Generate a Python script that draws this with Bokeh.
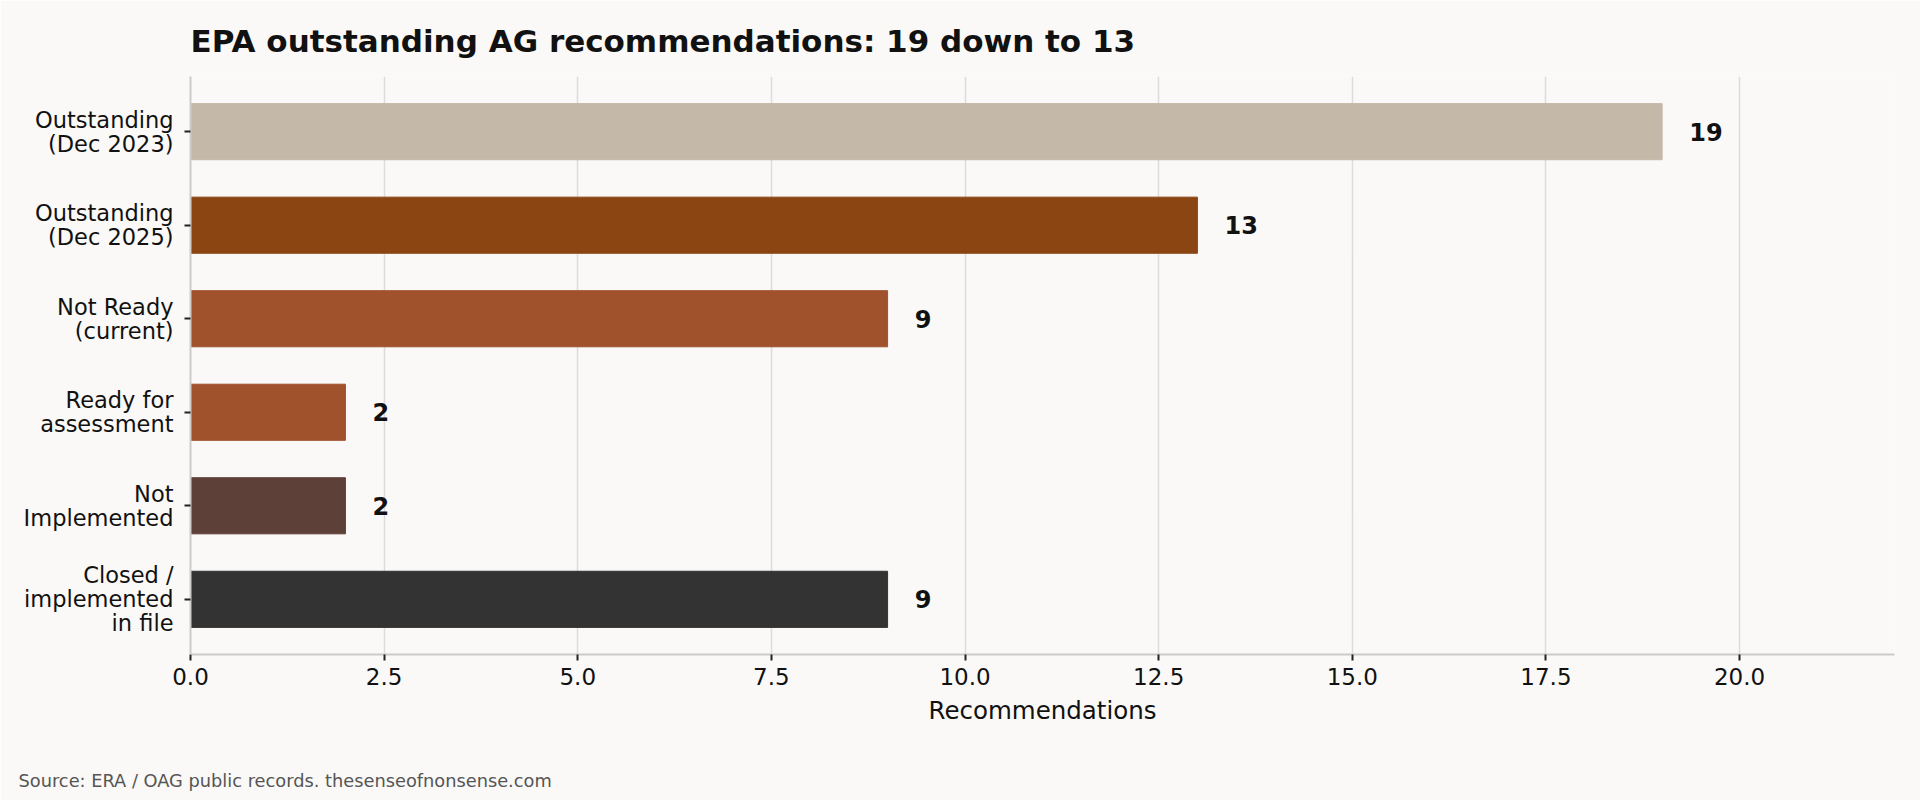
from bokeh.plotting import figure
from bokeh.embed import file_html
from bokeh.resources import INLINE
from bokeh.models import ColumnDataSource, FixedTicker, PrintfTickFormatter, Title, Range1d
from bokeh.core.properties import value

categories = [
    "Outstanding\n(Dec 2023)",
    "Outstanding\n(Dec 2025)",
    "Not Ready\n(current)",
    "Ready for\nassessment",
    "Not\nImplemented",
    "Closed /\nimplemented\nin file",
]
counts = [19, 13, 9, 2, 2, 9]
colors = ["#c4b8a8", "#8b4513", "#a0522d", "#a0522d", "#5d4037", "#333333"]
x_ticks = [0, 2.5, 5, 7.5, 10, 12.5, 15, 17.5, 20]

BG = "#faf9f7"
FONT = "DejaVu Sans"

# top category sits at the top of the chart
ypos = [len(categories) - 1 - i for i in range(len(categories))]

src = ColumnDataSource(data=dict(
    y=ypos,
    right=counts,
    color=colors,
    lx=[c + 0.35 for c in counts],
    txt=[str(c) for c in counts],
))

p = figure(width=1920, height=800, output_backend="svg", toolbar_location=None,
           x_range=Range1d(0, 22), y_range=Range1d(-0.59, 5.59),
           min_border_left=190, min_border_right=26,
           min_border_top=76, min_border_bottom=146)

p.background_fill_color = BG
p.border_fill_color = BG
p.outline_line_color = None

p.hbar(y="y", left=0, right="right", height=0.6, color="color", source=src)
p.text(x="lx", y="y", text="txt", source=src, text_baseline="middle",
       text_align="left", text_font=value(FONT), text_font_style="bold",
       text_font_size="24px", text_color="#111111")

p.title.text = "EPA outstanding AG recommendations: 19 down to 13"
p.title.text_font = FONT
p.title.text_font_size = "31px"
p.title.text_font_style = "bold"
p.title.text_color = "#111111"
p.title.text_line_height = 0.8
p.title.align = "left"
p.title.standoff = 36

xa = p.xaxis[0]
xa.ticker = FixedTicker(ticks=x_ticks)
xa.formatter = PrintfTickFormatter(format="%.1f")
xa.axis_label = "Recommendations"
xa.axis_label_text_font = FONT
xa.axis_label_text_font_size = "24.5px"
xa.axis_label_text_font_style = "normal"
xa.axis_label_text_color = "#111111"
xa.axis_label_standoff = 8
xa.major_label_text_font = FONT
xa.major_label_text_font_size = "23px"
xa.major_label_text_color = "#111111"
xa.major_label_standoff = 7
xa.axis_line_color = "#cccccc"
xa.axis_line_width = 2
xa.major_tick_line_color = "#222222"
xa.major_tick_line_width = 2
xa.major_tick_out = 6
xa.major_tick_in = 0
xa.minor_tick_line_color = None

ya = p.yaxis[0]
ya.ticker = FixedTicker(ticks=ypos)
ya.major_label_overrides = {y: c for y, c in zip(ypos, categories)}
ya.major_label_text_font = FONT
ya.major_label_text_font_size = "22.5px"
ya.major_label_text_line_height = 0.93
ya.major_label_text_color = "#111111"
ya.major_label_standoff = 11
ya.axis_line_color = "#cccccc"
ya.axis_line_width = 2
ya.major_tick_line_color = "#222222"
ya.major_tick_line_width = 2
ya.major_tick_out = 6
ya.major_tick_in = 0
ya.minor_tick_line_color = None

p.xgrid.grid_line_color = "#dcdcdc"
p.xgrid.grid_line_width = 1.5
p.xgrid.ticker = FixedTicker(ticks=x_ticks)
p.ygrid.grid_line_color = None

# spacer panel pushes the source note down to the bottom edge
spacer = Title(text=" ", standoff=35, text_font_size="1px")
p.add_layout(spacer, "below")

note = Title(text="Source: ERA / OAG public records. thesenseofnonsense.com",
             align="left", offset=-172, standoff=4,
             text_font=FONT, text_font_size="17.8px", text_font_style="normal",
             text_color="#555555")
p.add_layout(note, "below")

open("out.html", "w").write(file_html(p, INLINE))
